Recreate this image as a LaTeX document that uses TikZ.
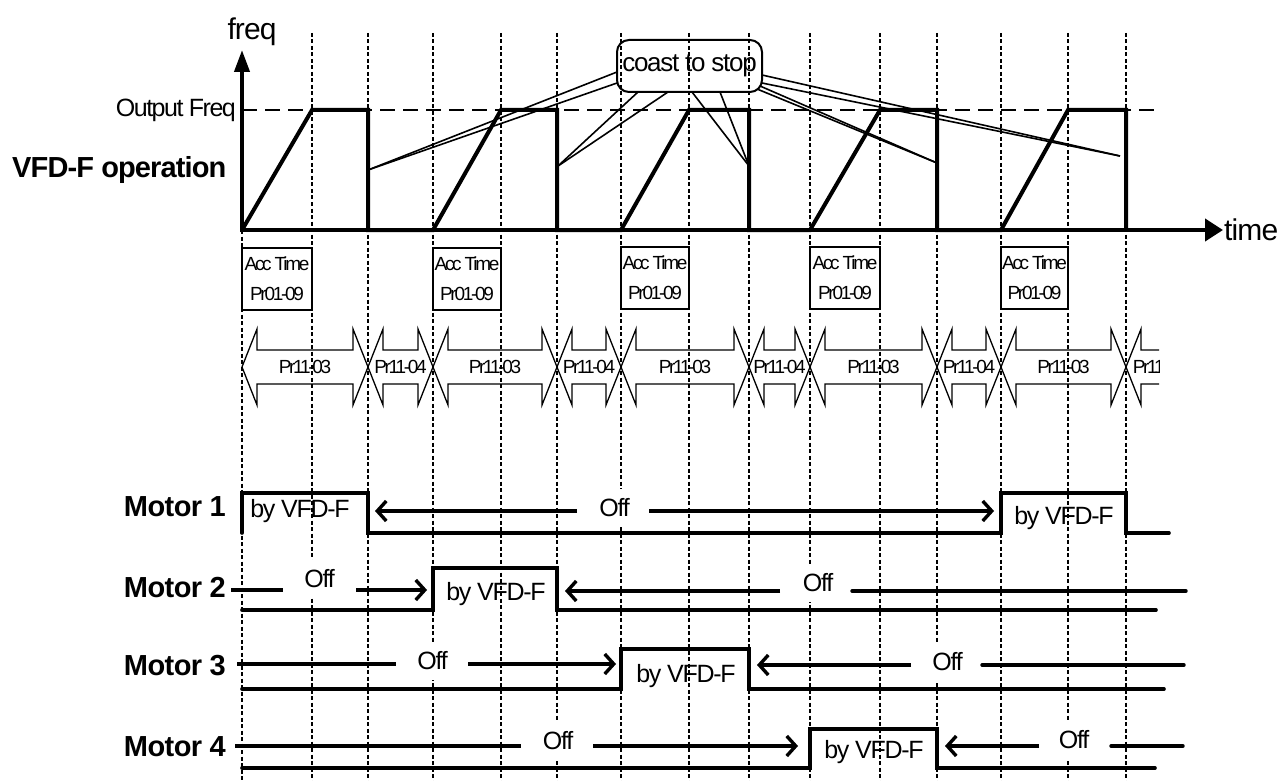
\documentclass[tikz,border=0pt]{standalone}
\usepackage{fontspec}
\setmainfont{Liberation Sans}
\usetikzlibrary{arrows.meta}
\newcommand{\myfs}[2]{\fontsize{#1}{#1}\selectfont\addfontfeatures{LetterSpace=#2}}
\begin{document}
\begin{tikzpicture}[x=1pt,y=-1pt,
 gridln/.style={line width=1.2pt, dash pattern=on 4pt off 2.5pt},
 outdash/.style={line width=2.8pt, dash pattern=on 15pt off 8pt},
 ftrace/.style={line width=4pt, line join=miter},
 coastln/.style={line width=1.6pt},
 mtrace/.style={line width=3.6pt, line cap=round, line join=miter},
 offln/.style={line width=3.4pt},
 barb/.style={-{Straight Barb[length=9pt,width=20pt]}},
 darr/.style={line width=1.3pt, line join=miter},
 accbox/.style={draw, line width=1.3pt, inner sep=0pt, align=center, font=\fontsize{19}{30}\selectfont\addfontfeatures{LetterSpace=-12}},
 offlbl/.style={fill=white, inner xsep=2pt, inner ysep=10pt, font=\myfs{25}{-5}},
 bylbl/.style={anchor=base, inner sep=0pt, font=\myfs{25}{-5}},
 mlbl/.style={anchor=east, inner sep=0pt, font=\bfseries\myfs{29}{-2}},
 prlbl/.style={inner sep=0pt, font=\myfs{19}{-12}}]
\useasboundingbox (0,0) rectangle (1280,781);

% vertical dashed grid
\draw[gridln] (242,230) -- (242,781);
\foreach \x in {312,368,433,501,557,621,689,749,810,880,937,1001,1068,1126}
  \draw[gridln] (\x,33) -- (\x,781);

% output frequency level
\draw[outdash] (242,110) -- (1155,110);

% Off labels (white background interrupts grid)
\node[offlbl] (off1) at (614.5,508) {Off};
\node[offlbl] (off2a) at (319.5,579) {Off};
\node[offlbl] (off2b) at (818,583) {Off};
\node[offlbl] (off3a) at (432.5,661) {Off};
\node[offlbl] (off3b) at (947.5,662) {Off};
\node[offlbl] (off4a) at (558,741) {Off};
\node[offlbl] (off4b) at (1074,740) {Off};

% axes
\draw[line width=4pt, -{Triangle[length=22pt,width=15pt]}] (242,232) -- (242,50);
\draw[line width=4pt, -{Triangle[length=18pt,width=22pt]}] (240,230) -- (1223,230);

% frequency trace
\draw[ftrace] (242,230) -- (312,110) -- (368,110) -- (368,230) -- (433,230) -- (501,110) -- (557,110) -- (557,230)
  -- (621,230) -- (689,110) -- (749,110) -- (749,230) -- (810,230) -- (880,110) -- (937,110) -- (937,230)
  -- (1001,230) -- (1068,110) -- (1126,110) -- (1126,230);

% texts of the frequency plot
\node[anchor=base, inner sep=0pt, font=\myfs{30}{-3}] (freq) at (252,40) {freq};
\node[anchor=base east, inner sep=0pt, font=\myfs{25}{-6}] (outf) at (236,117) {Output Freq};
\node[anchor=base west, inner sep=0pt, font=\bfseries\myfs{29}{-3}] (vfd) at (12,178) {VFD-F operation};
\node[anchor=base west, inner sep=0pt, font=\myfs{30}{-3}] (time) at (1224,240) {time};

% coast to stop
\node[draw, line width=2pt, rounded corners=12pt, minimum width=145pt, minimum height=52pt, inner sep=0pt, font=\myfs{26}{-5}] (coast) at (689.5,66) {coast to stop};
\coordinate (fe1) at (368,170);
\coordinate (fe2) at (558,166);
\coordinate (fe3) at (749,166);
\coordinate (fe4) at (937,163);
\coordinate (fe5) at (1120,156);
\coordinate (cb1) at (617,72);
\coordinate (cb2) at (617,83);
\coordinate (cb3) at (638,92);
\coordinate (cb4) at (668,92);
\coordinate (cb5) at (692,92);
\coordinate (cb6) at (720,92);
\coordinate (cb7) at (762,75);
\coordinate (cb8) at (762,83);
\coordinate (cb9) at (760,86);
\coordinate (cb10) at (757,89);
\draw[coastln] (fe1) -- (cb1);
\draw[coastln] (fe1) -- (cb2);
\draw[coastln] (fe2) -- (cb3);
\draw[coastln] (fe2) -- (cb4);
\draw[coastln] (fe3) -- (cb5);
\draw[coastln] (fe3) -- (cb6);
\draw[coastln] (fe5) -- (cb7);
\draw[coastln] (fe5) -- (cb8);
\draw[coastln] (fe4) -- (cb9);
\draw[coastln] (fe4) -- (cb10);

% Acc Time boxes
\node[accbox, minimum width=70pt, minimum height=62pt] (acc1) at (277,279) {Acc Time\\Pr01-09};
\node[accbox, minimum width=68pt, minimum height=62pt] (acc2) at (467,279) {Acc Time\\Pr01-09};
\node[accbox, minimum width=68pt, minimum height=62pt] (acc3) at (655,278) {Acc Time\\Pr01-09};
\node[accbox, minimum width=70pt, minimum height=62pt] (acc4) at (845,278) {Acc Time\\Pr01-09};
\node[accbox, minimum width=67pt, minimum height=62pt] (acc5) at (1034.5,278) {Acc Time\\Pr01-09};

% double arrows Pr11-03 / Pr11-04
\foreach \a/\b/\t [count=\i] in {242/368/Pr11-03,368/433/Pr11-04,433/557/Pr11-03,557/621/Pr11-04,621/749/Pr11-03,749/810/Pr11-04,810/937/Pr11-03,937/1001/Pr11-04,1001/1126/Pr11-03}{
  \draw[darr] (\a,367) -- ++(15,-38) -- ++(0,21) -- (\b-15,350) -- ++(0,-21) -- (\b,367) -- ++(-15,38) -- ++(0,-21) -- (\a+15,384) -- ++(0,21) -- cycle;
  \node[prlbl] (pr\i) at ({(\a+\b)/2},367) {\t};
}
\begin{scope}
  \clip (1100,300) rectangle (1159,420);
  \draw[darr] (1126,367) -- ++(15,-38) -- ++(0,21) -- (1175,350) -- ++(0,-21) -- (1190,367) -- ++(-15,38) -- ++(0,-21) -- (1141,384) -- ++(0,21) -- cycle;
  \node[prlbl] (pr10) at (1159,367) {Pr11-04};
\end{scope}

% motor labels
\node[mlbl] (m1) at (226,507) {Motor 1};
\node[mlbl] (m2) at (226,588) {Motor 2};
\node[mlbl] (m3) at (226,666) {Motor 3};
\node[mlbl] (m4) at (226,747) {Motor 4};

% motor traces
\draw[mtrace] (242,533) -- (242,493) -- (368,493) -- (368,533) -- (1001,533) -- (1001,493) -- (1126,493) -- (1126,533) -- (1169,533);
\draw[mtrace] (242,610) -- (433,610) -- (433,568) -- (557,568) -- (557,610) -- (1156,610);
\draw[mtrace] (242,689) -- (621,689) -- (621,649) -- (749,649) -- (749,689) -- (1164,689);
\draw[mtrace] (242,768) -- (810,768) -- (810,729) -- (937,729) -- (937,768) -- (1155,768);

% by VFD-F labels
\node[bylbl] (b1a) at (300,517) {by VFD-F};
\node[bylbl] (b1b) at (1064,524) {by VFD-F};
\node[bylbl] (b2) at (496,600) {by VFD-F};
\node[bylbl] (b3) at (686,682) {by VFD-F};
\node[bylbl] (b4) at (874,758) {by VFD-F};

% Off arrows
\coordinate (m1l1) at (375,511); \coordinate (m1l2) at (577,511);
\coordinate (m1r1) at (649,511); \coordinate (m1r2) at (994,511);
\draw[offln, barb] (m1l2) -- (m1l1);
\draw[offln, barb] (m1r1) -- (m1r2);

\coordinate (m2l1) at (231,590); \coordinate (m2l2) at (283,590);
\coordinate (m2l3) at (356,590); \coordinate (m2l4) at (427,590);
\draw[offln] (m2l1) -- (m2l2);
\draw[offln, barb] (m2l3) -- (m2l4);
\coordinate (m2r1) at (565,591); \coordinate (m2r2) at (780,591);
\coordinate (m2r3) at (852,591); \coordinate (m2r4) at (1186,591);
\draw[offln, barb] (m2r2) -- (m2r1);
\draw[offln, line cap=round] (m2r3) -- (m2r4);

\coordinate (m3l1) at (237,664); \coordinate (m3l2) at (396,664);
\coordinate (m3l3) at (468,664); \coordinate (m3l4) at (616,664);
\draw[offln] (m3l1) -- (m3l2);
\draw[offln, barb] (m3l3) -- (m3l4);
\coordinate (m3r1) at (757,665); \coordinate (m3r2) at (911,665);
\coordinate (m3r3) at (982,665); \coordinate (m3r4) at (1184,665);
\draw[offln, barb] (m3r2) -- (m3r1);
\draw[offln, line cap=round] (m3r3) -- (m3r4);

\coordinate (m4l1) at (235,746); \coordinate (m4l2) at (521,746);
\coordinate (m4l3) at (593,746); \coordinate (m4l4) at (798,746);
\draw[offln] (m4l1) -- (m4l2);
\draw[offln, barb] (m4l3) -- (m4l4);
\coordinate (m4r1) at (945,746); \coordinate (m4r2) at (1039,746);
\coordinate (m4r3) at (1111,746); \coordinate (m4r4) at (1183,746);
\draw[offln, barb] (m4r2) -- (m4r1);
\draw[offln, line cap=round] (m4r3) -- (m4r4);
\end{tikzpicture}
\end{document}
